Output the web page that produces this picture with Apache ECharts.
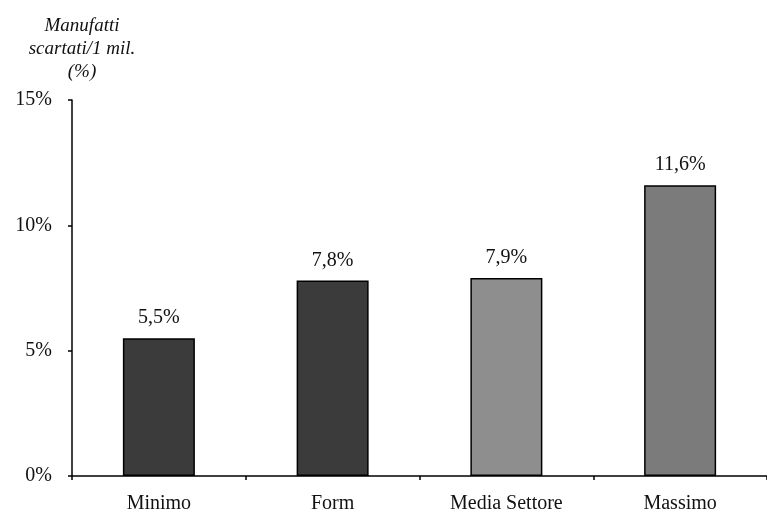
<!DOCTYPE html>
<html>
<head>
<meta charset="utf-8">
<script src="https://cdn.jsdelivr.net/npm/echarts@6/dist/echarts.min.js"></script>
<style>
  html, body { margin: 0; padding: 0; background: #fff; }
  #chart { width: 767px; height: 514px; }
</style>
</head>
<body>
<div id="chart"></div>
<script>
// Scarti per milione di manufatti, per riferimento
const categories = ['Minimo', 'Form', 'Media Settore', 'Massimo'];
const values = [5.5, 7.8, 7.9, 11.6];
const valueLabels = ['5,5%', '7,8%', '7,9%', '11,6%'];
const barColors = ['#3b3b3b', '#3b3b3b', '#8e8e8e', '#7b7b7b'];
const yTicks = [0, 5, 10, 15];

const serif = '"Liberation Serif", "DejaVu Serif", serif';

const chart = echarts.init(document.getElementById('chart'));
chart.setOption({
  animation: false,
  backgroundColor: '#ffffff',
  graphic: [{
    type: 'text',
    x: 82,
    y: 14,
    style: {
      text: 'Manufatti\nscartati/1 mil.\n(%)',
      font: 'italic 19px ' + serif,
      lineHeight: 23,
      fill: '#111',
      align: 'center',
      verticalAlign: 'top'
    }
  }],
  grid: { left: 72, right: 0, top: 100, bottom: 37, containLabel: false },
  xAxis: {
    type: 'category',
    data: categories,
    axisLine: { lineStyle: { color: '#000', width: 1.5 } },
    axisTick: { show: true, length: 4, lineStyle: { color: '#000', width: 1.5 } },
    axisLabel: {
      color: '#111', fontFamily: serif, fontSize: 20, margin: 18
    }
  },
  yAxis: {
    type: 'value',
    min: 0,
    max: 15,
    interval: 5,
    splitLine: { show: false },
    axisLine: { show: true, lineStyle: { color: '#000', width: 1.5 } },
    axisTick: { show: true, length: 4, lineStyle: { color: '#000', width: 1.5 } },
    axisLabel: {
      color: '#111', fontFamily: serif, fontSize: 20, margin: 20,
      formatter: v => yTicks.includes(v) ? v + '%' : ''
    }
  },
  series: [{
    type: 'bar',
    barWidth: 72,
    data: values.map((v, i) => ({
      value: v,
      itemStyle: { color: barColors[i], borderColor: '#000', borderWidth: 1.5 }
    })),
    label: {
      show: true,
      position: 'top',
      distance: 10,
      color: '#111',
      fontFamily: serif,
      fontSize: 20,
      formatter: p => valueLabels[p.dataIndex]
    }
  }]
});
</script>
</body>
</html>
